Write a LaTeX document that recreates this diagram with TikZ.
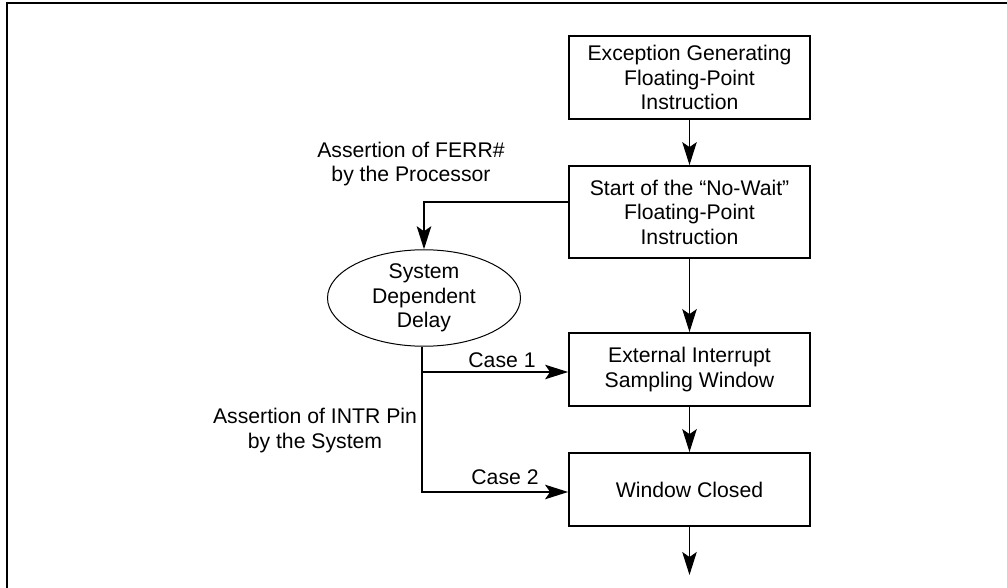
\documentclass[tikz,border=0pt]{standalone}
\usepackage{fontspec}
\setmainfont{Liberation Sans}
\usetikzlibrary{arrows.meta,shapes.geometric}
\begin{document}
\begin{tikzpicture}[x=1pt,y=-1pt,
  every node/.style={font=\fontsize{21.2}{24.5}\selectfont, inner sep=0pt, align=center},
  box/.style={draw, line width=1.8pt, minimum width=241pt},
  oval/.style={draw, ellipse, line width=1pt, minimum width=193pt, minimum height=96pt},
  arr/.style={-{Stealth[length=23pt,width=14.5pt,inset=5pt]}},
  thin/.style={line width=1.1pt},
  thick/.style={line width=1.9pt},
  lbl/.style={}
]
\useasboundingbox (0,0) rectangle (1007,588);
\draw[line width=2pt] (6.5,588) -- (6.5,3) -- (1007,3);

\node[box, minimum height=83pt] (b1) at (689.5,77.5) {Exception Generating\\Floating-Point\\Instruction};
\node[box, minimum height=92pt] (b2) at (689.5,212) {Start of the ``No-Wait''\\Floating-Point\\Instruction};
\node[box, minimum height=73pt] (b3) at (689.5,369.5) {External Interrupt\\Sampling Window};
\node[box, minimum height=73pt] (b4) at (689.5,489.5) {Window Closed};
\node[oval] (el) at (424,298) {System\\Dependent\\Delay};
\coordinate (end) at (689.5,575);

\node[lbl] (ferr) at (411,164) {Assertion of FERR\#\\by the Processor};
\node[lbl] (intr) at (315,430.5) {Assertion of INTR Pin\\by the System};
\node[lbl] (c1) at (502,360) {Case 1};
\node[lbl] (c2) at (505,477) {Case 2};

\draw[thin, arr] (b1.south) -- (b2.north);
\draw[thick, arr] ([yshift=10pt]b2.west) -| (el.north);
\draw[line width=1.3pt, arr] (b2.south) -- (b3.north);
\draw[thick, arr] ([xshift=-2pt]el.south) |- ([yshift=-2.5pt]b4.west);
\draw[thin, arr] ([xshift=-2pt]el.south |- b3.west) ++(0,2.5) -- ([yshift=-2.5pt]b3.west);
\draw[line width=1.3pt, arr] (b3.south) -- (b4.north);
\draw[line width=1.3pt, arr] (b4.south) -- (end);
\end{tikzpicture}
\end{document}
